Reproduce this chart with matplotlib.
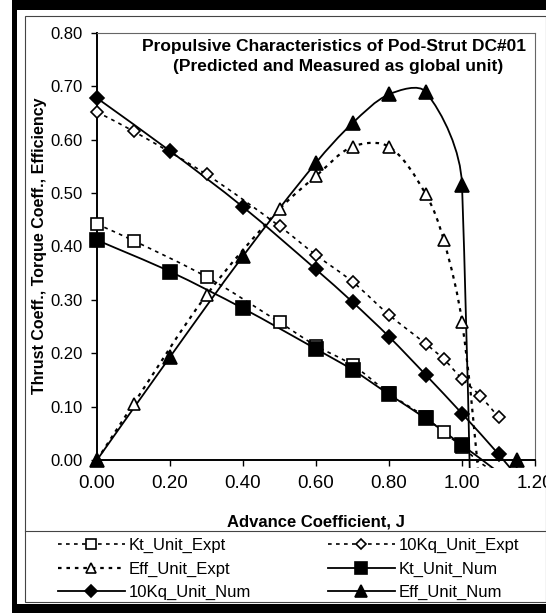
import numpy as np
import matplotlib
matplotlib.use('Agg')
import matplotlib.pyplot as plt
from matplotlib.path import Path
from matplotlib.patches import PathPatch, Rectangle
from matplotlib.lines import Line2D

plt.rcParams['font.family'] = ['Liberation Sans', 'DejaVu Sans']

W, H = 546, 613

# values (points below 0 are off the plot, only the lines show)
j_expt = [0.0, 0.1, 0.3, 0.5, 0.6, 0.7, 0.8, 0.9, 0.95, 1.0, 1.05, 1.1]
kt_expt = [0.442, 0.411, 0.343, 0.258, 0.214, 0.178, 0.125, 0.080, 0.052, 0.025, -0.005, -0.025]
kq10_expt = [0.652, 0.616, 0.535, 0.438, 0.384, 0.334, 0.272, 0.218, 0.189, 0.152, 0.120, 0.080]
eff_expt = [0.0, 0.105, 0.309, 0.470, 0.532, 0.587, 0.587, 0.499, 0.412, 0.259, -0.07, -0.55]

j_num = [0.0, 0.2, 0.4, 0.6, 0.7, 0.8, 0.9, 1.0, 1.1, 1.15]
kt_num = [0.412, 0.353, 0.284, 0.208, 0.169, 0.123, 0.078, 0.028, -0.023, -0.05]
kq10_num = [0.678, 0.579, 0.474, 0.357, 0.296, 0.231, 0.160, 0.087, 0.011, -0.03]
eff_num = [0.0, 0.193, 0.382, 0.557, 0.631, 0.685, 0.690, 0.516, -3.4, 0.0]

x_ticks = [0.0, 0.2, 0.4, 0.6, 0.8, 1.0, 1.2]
x_labels = ['0.00', '0.20', '0.40', '0.60', '0.80', '1.00', '1.20']
y_ticks = [0.0, 0.1, 0.2, 0.3, 0.4, 0.5, 0.6, 0.7, 0.8]
y_labels = ['%.2f' % v for v in y_ticks]


def fx(x):
    return x / W


def fy(y):
    return 1 - y / H


def smooth_path(ax, xs, ys):
    # excel-like smoothed line, bezier built in screen space
    pts = ax.transData.transform(np.column_stack([xs, ys]))
    n = len(pts)
    verts = [pts[0]]
    codes = [Path.MOVETO]
    for i in range(n - 1):
        p0 = pts[max(i - 1, 0)]
        p1 = pts[i]
        p2 = pts[i + 1]
        p3 = pts[min(i + 2, n - 1)]
        d01 = np.hypot(*(p1 - p0))
        d12 = np.hypot(*(p2 - p1))
        d23 = np.hypot(*(p3 - p2))
        c1 = p1 + (p2 - p0) * d12 / (3 * (d01 + d12))
        c2 = p2 - (p3 - p1) * d12 / (3 * (d12 + d23))
        verts += [c1, c2, p2]
        codes += [Path.CURVE4] * 3
    verts = ax.transData.inverted().transform(np.array(verts))
    return Path(verts, codes)


fig = plt.figure(figsize=(W / 100, H / 100), dpi=100)

# outer black border and inner frame
fig.patches.append(Rectangle((fx(12), fy(640)), 1, 640 / H, transform=fig.transFigure,
                             fc='black', ec='none', zorder=-3))
fig.patches.append(Rectangle((fx(16.5), fy(604)), 1, (604 - 10) / H, transform=fig.transFigure,
                             fc='white', ec='none', zorder=-2))
fig.patches.append(Rectangle((fx(25), fy(602)), (545.5 - 25) / W, (602 - 16) / H,
                             transform=fig.transFigure, fc='none', ec='#444444', lw=0.8, zorder=-1))
fig.lines.append(Line2D([fx(25), fx(545.5)], [fy(531), fy(531)], transform=fig.transFigure,
                        color='#444444', lw=0.8, zorder=-1))

ax = fig.add_axes([fx(97), fy(468), (535 - 97) / W, (468 - 33) / H])
ax.set_xlim(0, 1.2)
ax.set_ylim(-0.015, 0.8)

ax.spines['bottom'].set_position(('data', 0))
ax.spines['bottom'].set_linewidth(1.4)
ax.spines['left'].set_linewidth(1.4)
ax.spines['left'].set_bounds(0, 0.8)
ax.spines['right'].set_bounds(0, 0.8)
ax.spines['right'].set_color('#666666')
ax.spines['top'].set_color('#666666')
ax.spines['right'].set_linewidth(0.8)
ax.spines['top'].set_linewidth(0.8)

ax.set_xticks(x_ticks)
ax.set_xticklabels(x_labels)
ax.set_yticks(y_ticks)
ax.set_yticklabels(y_labels)
ax.tick_params(axis='x', direction='out', length=4.5, width=1, labelsize=13.5, pad=6)
ax.tick_params(axis='y', direction='out', length=4, width=1, labelsize=12, pad=6)

series = [
    (j_expt, kt_expt, (0, (2.2, 2.6)), 1.2, 's', 8.5, 'white'),
    (j_expt, kq10_expt, (0, (2.2, 2.6)), 1.2, 'D', 6.5, 'white'),
    (j_expt, eff_expt, (0, (1.6, 2.2)), 1.6, '^', 9, 'white'),
    (j_num, kt_num, '-', 1.3, 's', 10, 'black'),
    (j_num, kq10_num, '-', 1.3, 'D', 7.5, 'black'),
    (j_num, eff_num, '-', 1.3, '^', 9.7, 'black'),
]
names = ['Kt_Unit_Expt', '10Kq_Unit_Expt', 'Eff_Unit_Expt',
         'Kt_Unit_Num', '10Kq_Unit_Num', 'Eff_Unit_Num']

handles = []
for (xs, ys, ls, lw, mk, ms, mfc), name in zip(series, names):
    ax.add_patch(PathPatch(smooth_path(ax, xs, ys), fill=False, ec='black', lw=lw, ls=ls, zorder=2))
    xs = np.array(xs)
    ys = np.array(ys)
    keep = (ys >= 0) & (ys <= 0.8)
    ax.plot(xs[keep], ys[keep], ls='none', marker=mk, ms=ms, mfc=mfc, mec='black',
            mew=1.2, clip_on=False, zorder=3)
    handles.append(Line2D([], [], color='black', lw=lw, ls=ls, marker=mk, ms=ms * 0.85,
                          mfc=mfc, mec='black', mew=1.2, label=name))

fig.text(fx(334), fy(46), 'Propulsive Characteristics of Pod-Strut DC#01',
         ha='center', va='center', fontsize=12.5, fontweight='bold')
fig.text(fx(338), fy(66), '(Predicted and Measured as global unit)',
         ha='center', va='center', fontsize=12.5, fontweight='bold')
fig.text(fx(316), fy(522), 'Advance Coefficient, J', ha='center', va='center',
         fontsize=12, fontweight='bold')
fig.text(fx(40), fy(246), 'Thrust Coeff., Torque Coeff., Efficiency', ha='center', va='center',
         rotation=90, fontsize=11.5, fontweight='bold')

leg_kw = dict(loc='upper left', frameon=False, fontsize=12, handlelength=4.0,
              handletextpad=0.25, labelspacing=0.5, borderpad=0, borderaxespad=0, numpoints=1)
fig.legend(handles=[handles[0], handles[2], handles[4]], bbox_to_anchor=(fx(58), fy(538)), **leg_kw)
fig.legend(handles=[handles[1], handles[3], handles[5]], bbox_to_anchor=(fx(328), fy(538)), **leg_kw)

fig.savefig('out.png', dpi=100)
